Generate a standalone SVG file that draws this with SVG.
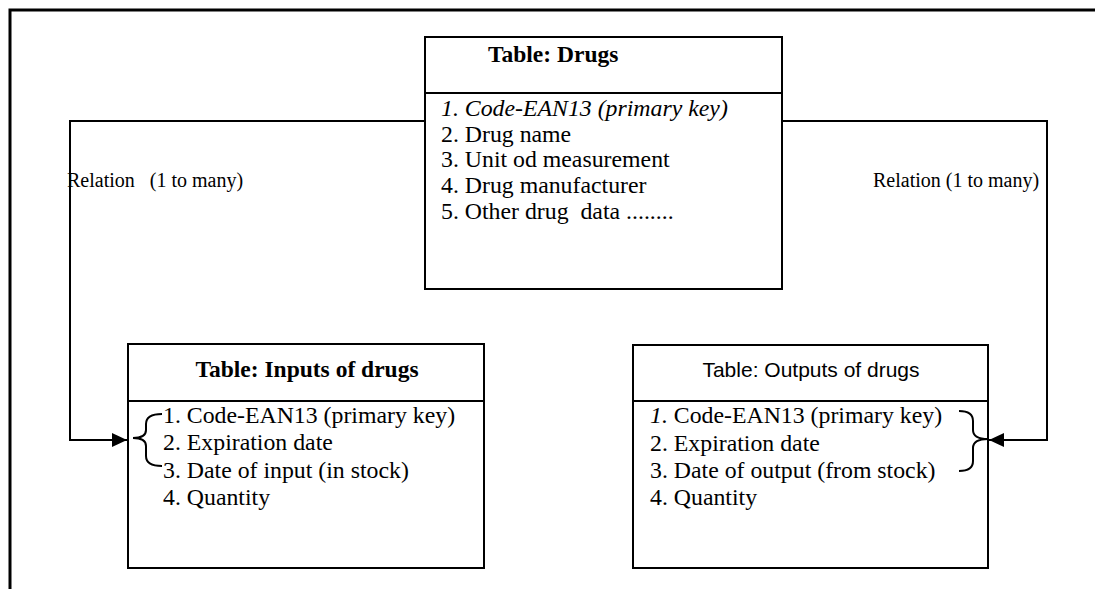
<svg xmlns="http://www.w3.org/2000/svg" width="1095" height="589" viewBox="0 0 1095 589">
<style>
.box{fill:#fff;stroke:#000;stroke-width:2}
.div{stroke:#000;stroke-width:2}
.t{font-family:"Liberation Serif","Times New Roman",serif;font-size:23.8px;fill:#000}
.b{font-weight:bold;font-size:23.5px}
.i{font-style:italic}
.s{font-family:"Liberation Sans",Arial,sans-serif;font-size:21px;fill:#000}
.rel{font-family:"Liberation Serif","Times New Roman",serif;font-size:20px;fill:#000;white-space:pre}
.c{fill:none;stroke:#000;stroke-width:2}
</style>
<defs>
<marker id="arr" markerUnits="userSpaceOnUse" markerWidth="16" markerHeight="14" refX="15" refY="7" orient="auto">
<path d="M0,0 L15,7 L0,14 Z" fill="#000"/>
</marker>
</defs>
<rect width="1095" height="589" fill="#fff"/>
<path d="M10,589 L10,10 L1095,10" fill="none" stroke="#000" stroke-width="3"/>
<g id="drugs">
<rect class="box" x="425" y="37" width="357" height="252"/>
<line class="div" x1="425" y1="93" x2="782" y2="93"/>
<text class="t b" x="488" y="62">Table: Drugs</text>
<text class="t i" x="441" y="116">1. Code-EAN13 (primary key)</text>
<text class="t" x="441" y="142">2. Drug name</text>
<text class="t" x="441" y="167">3. Unit od measurement</text>
<text class="t" x="441" y="193">4. Drug manufacturer</text>
<text class="t" x="441" y="219" xml:space="preserve">5. Other drug  data ........</text>
</g>
<g id="inputs">
<rect class="box" x="128" y="344" width="356" height="224"/>
<line class="div" x1="128" y1="401" x2="484" y2="401"/>
<text class="t b" x="307" y="377" text-anchor="middle">Table: Inputs of drugs</text>
<text class="t" x="163" y="423">1. Code-EAN13 (primary key)</text>
<text class="t" x="163" y="450">2. Expiration date</text>
<text class="t" x="163" y="478">3. Date of input (in stock)</text>
<text class="t" x="163" y="505">4. Quantity</text>
</g>
<g id="outputs">
<rect class="box" x="633" y="345" width="355" height="223"/>
<line class="div" x1="633" y1="401" x2="988" y2="401"/>
<text class="s" x="811" y="377" text-anchor="middle">Table: Outputs of drugs</text>
<text class="t" x="650" y="423"><tspan class="i">1.</tspan> Code-EAN13 (primary key)</text>
<text class="t" x="650" y="451">2. Expiration date</text>
<text class="t" x="650" y="478">3. Date of output (from stock)</text>
<text class="t" x="650" y="505">4. Quantity</text>
</g>
<g id="connectors">
<path class="c" d="M425,121 L70,121 L70,440 L127,440" marker-end="url(#arr)"/>
<path class="c" d="M782,121 L1047,121 L1047,440 L989,440" marker-end="url(#arr)"/>
<path class="c" d="M162,414 Q146,414 146,424 L146,430 Q146,438 133,438 Q146,438 146,446 L146,456 Q146,466 162,466"/>
<path class="c" d="M959,411 Q973,411 973,421 L973,430 Q973,439 988,439 Q973,439 973,448 L973,461 Q973,471 959,471"/>
<text class="rel" x="67" y="187">Relation   (1 to many)</text>
<text class="rel" x="873" y="187">Relation (1 to many)</text>
</g>
</svg>
